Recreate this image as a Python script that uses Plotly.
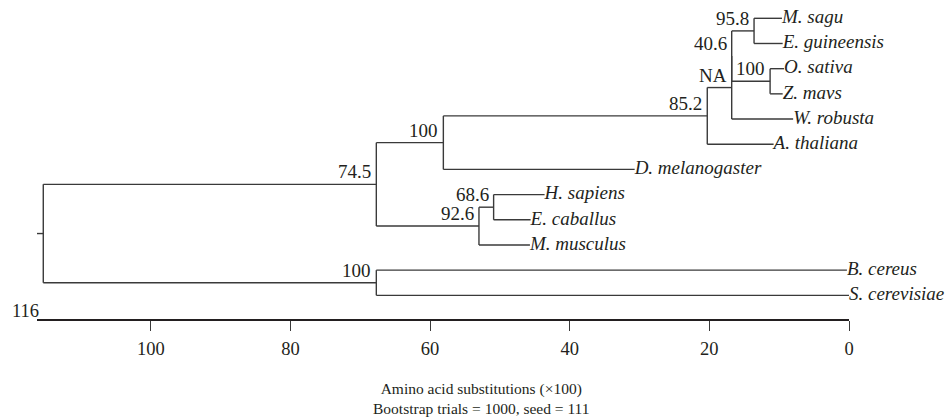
import plotly.graph_objects as go

# ---- data -------------------------------------------------------------
leaf_names = ["M. sagu", "E. guineensis", "O. sativa", "Z. mavs", "W. robusta",
              "A. thaliana", "D. melanogaster", "H. sapiens", "E. caballus",
              "M. musculus", "B. cereus", "S. cerevisiae"]
leaf_dist = [9.6, 9.5, 9.3, 9.5, 8.0, 10.8, 30.7, 43.6, 45.6, 45.7, 0.3, 0.0]

node_ids = ["n958", "n100os", "n406", "nNA", "n852", "n100dm",
            "n686", "n926", "n745", "n100bs", "root"]
node_dist = [13.6, 11.3, 16.8, 16.8, 20.3, 58.1, 50.9, 53.0, 67.7, 67.7, 115.4]
node_support = ["95.8", "100", "40.6", "NA", "85.2", "100",
                "68.6", "92.6", "74.5", "100", ""]
node_children = [
    ["M. sagu", "E. guineensis"],
    ["O. sativa", "Z. mavs"],
    ["n958", "n100os"],
    ["n406", "W. robusta"],
    ["nNA", "A. thaliana"],
    ["n852", "D. melanogaster"],
    ["H. sapiens", "E. caballus"],
    ["n686", "M. musculus"],
    ["n100dm", "n926"],
    ["B. cereus", "S. cerevisiae"],
    ["n745", "n100bs"],
]
root_stub = 116.3
axis_max = 116.3
tick_vals = [100, 80, 60, 40, 20, 0]
axis_end_label = "116"
title_lines = ["Amino acid substitutions (×100)", "Bootstrap trials = 1000, seed = 111"]

# ---- layout of tree ---------------------------------------------------
pos = {}
for i, (n, d) in enumerate(zip(leaf_names, leaf_dist)):
    pos[n] = (d, float(i))
for n, d, ch in zip(node_ids, node_dist, node_children):
    ys = [pos[c][1] for c in ch]
    pos[n] = (d, (min(ys) + max(ys)) / 2.0)

lx, ly = [], []
for n, ch in zip(node_ids, node_children):
    x0, y0 = pos[n]
    ys = [pos[c][1] for c in ch]
    lx += [x0, x0, None]
    ly += [min(ys), max(ys), None]
    for c in ch:
        cx, cy = pos[c]
        lx += [x0, cx, None]
        ly += [cy, cy, None]
rx, ry = pos["root"]
lx += [root_stub, rx, None]
ly += [ry, ry, None]

INK = "#231f20"
LINE = "#3a3a3a"
FONT = "Liberation Serif"

fig = go.Figure()
fig.add_trace(go.Scatter(x=lx, y=ly, mode="lines",
                         line=dict(color=LINE, width=1.4),
                         hoverinfo="skip", showlegend=False))
fig.add_trace(go.Scatter(
    x=leaf_dist, y=list(range(len(leaf_names))), mode="text",
    text=["<i>" + n + "</i>" for n in leaf_names],
    textposition="middle right",
    textfont=dict(family=FONT, size=19, color=INK),
    cliponaxis=False, hoverinfo="skip", showlegend=False))

annotations = []
for n, s in zip(node_ids, node_support):
    if not s:
        continue
    x, y = pos[n]
    annotations.append(dict(
        text=s, x=x, y=y, xref="x", yref="y", xanchor="right",
        yanchor="bottom", showarrow=False, xshift=-3, yshift=0,
        font=dict(family=FONT, size=19, color=INK)))
annotations += [
    dict(text=axis_end_label, xref="paper", yref="paper", x=0, y=0.026,
         xanchor="right", yanchor="middle", showarrow=False, xshift=4,
         font=dict(family=FONT, size=18.5, color=INK)),
    dict(text="<br>".join(title_lines), xref="paper", yref="paper",
         x=0.548, y=-0.186, xanchor="center", yanchor="top",
         showarrow=False, align="center",
         font=dict(family=FONT, size=15.5, color=INK)),
]

fig.update_layout(
    width=952, height=418,
    margin=dict(l=37, r=103, t=0, b=99),
    paper_bgcolor="white", plot_bgcolor="white",
    font=dict(family=FONT, color=INK),
    hovermode=False,
    xaxis=dict(range=[axis_max, 0], tickvals=tick_vals,
               ticks="outside", ticklen=10, tickwidth=1.4, tickcolor=LINE,
               showline=True, linecolor=INK, linewidth=1.5,
               showgrid=False, zeroline=False,
               tickfont=dict(family=FONT, size=18.5, color=INK),
               ticklabelstandoff=2),
    yaxis=dict(range=[11.94, -0.727], visible=False, showgrid=False,
               zeroline=False),
    annotations=annotations,
)
fig.write_html("out.html", config={"displayModeBar": False},
               post_script="document.body.style.margin='0';")
